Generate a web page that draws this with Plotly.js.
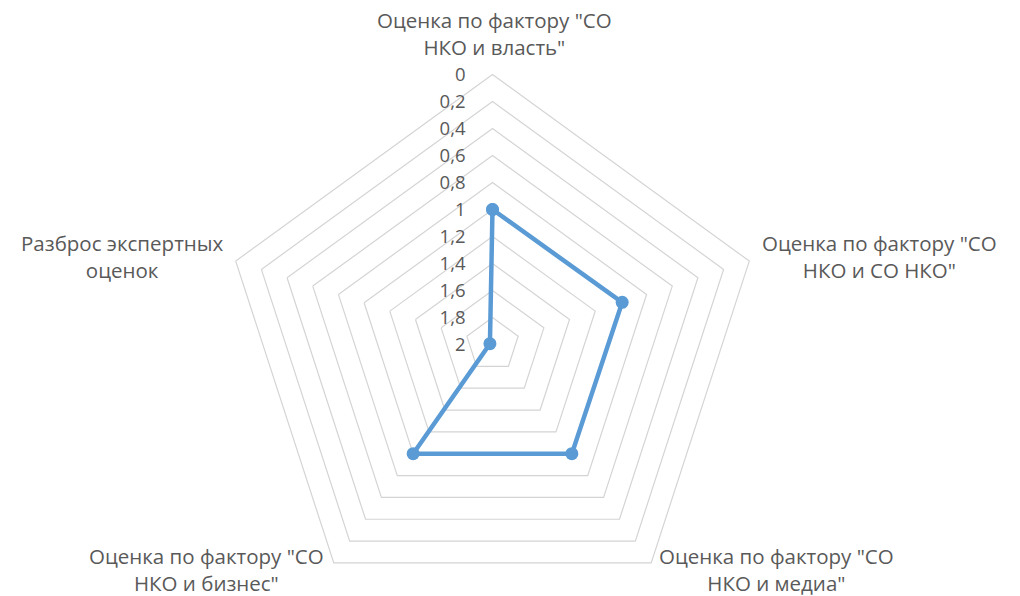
<!DOCTYPE html>
<html>
<head>
<meta charset="utf-8">
<script src="https://cdn.plot.ly/plotly-3.0.1.min.js"></script>
<style>
html,body{margin:0;padding:0;background:#fff;overflow:hidden;}
#wrap{width:1020px;height:596px;overflow:hidden;position:relative;}
#chart{width:1020px;height:640px;}
</style>
</head>
<body>
<div id="wrap"><div id="chart"></div></div>
<script>
const categories = [
  'Оценка по фактору "СО<br>НКО и власть"',
  'Оценка по фактору "СО<br>НКО и СО НКО"',
  'Оценка по фактору "СО<br>НКО и медиа"',
  'Оценка по фактору "СО<br>НКО и бизнес"',
  'Разброс экспертных<br>оценок'
];
const values = [1.0, 0.99, 1.0, 1.0, 1.98];
const radialTickVals = [0, 0.2, 0.4, 0.6, 0.8, 1, 1.2, 1.4, 1.6, 1.8, 2];
const radialTickText = ['0', '0,2', '0,4', '0,6', '0,8', '1', '1,2', '1,4', '1,6', '1,8', '2'];

const FONT = 'Open Sans, sans-serif';
const TXT = '#595959';
const GRID = '#D4D4D4';

const trace = {
  type: 'scatterpolar',
  r: values.concat([values[0]]),
  theta: categories.concat([categories[0]]),
  mode: 'lines+markers',
  line: {color: '#5B9BD5', width: 4.5},
  marker: {color: '#5B9BD5', size: 13},
  cliponaxis: false,
  hoverinfo: 'r+theta'
};

const W = 1020, H = 640, CX = 492.5, CY = 344.5, R = 270;

// category label placement (pixel centres of each label block, Excel-style)
const labelPos = [[494.5, 33.5], [879, 256.5], [776.5, 569.5], [206, 569.5], [122.5, 256.5]];
const annotations = categories.map((c, i) => ({
  text: c,
  xref: 'paper', yref: 'paper',
  x: labelPos[i][0] / W, y: 1 - labelPos[i][1] / H,
  xanchor: 'center', yanchor: 'middle',
  align: 'center', showarrow: false,
  font: {family: FONT, color: TXT, size: 20.5}
}));

const layout = {
  width: W, height: H,
  margin: {l: 0, r: 0, t: 0, b: 0, pad: 0},
  paper_bgcolor: '#ffffff',
  showlegend: false,
  font: {family: FONT, color: TXT, size: 18},
  annotations: annotations,
  polar: {
    domain: {x: [(CX - R) / W, (CX + R) / W], y: [(H - CY - R) / H, (H - CY + R) / H]},
    gridshape: 'linear',
    bgcolor: 'rgba(0,0,0,0)',
    radialaxis: {
      range: [2, 0],
      autorange: false,
      angle: 90,
      side: 'counterclockwise',
      tickangle: 90,
      tickvals: radialTickVals,
      ticktext: radialTickText,
      showline: false,
      showgrid: true,
      gridcolor: GRID,
      gridwidth: 1.2,
      ticks: 'outside',
      ticklen: 20,
      tickcolor: 'rgba(0,0,0,0)',
      tickfont: {family: FONT, color: TXT, size: 18.5}
    },
    angularaxis: {
      type: 'category',
      categoryarray: categories,
      direction: 'clockwise',
      rotation: 90,
      showgrid: false,
      showline: true,
      linecolor: GRID,
      linewidth: 1.2,
      ticks: '',
      showticklabels: false
    }
  }
};

Plotly.newPlot('chart', [trace], layout, {displayModeBar: false, staticPlot: true});
</script>
</body>
</html>
